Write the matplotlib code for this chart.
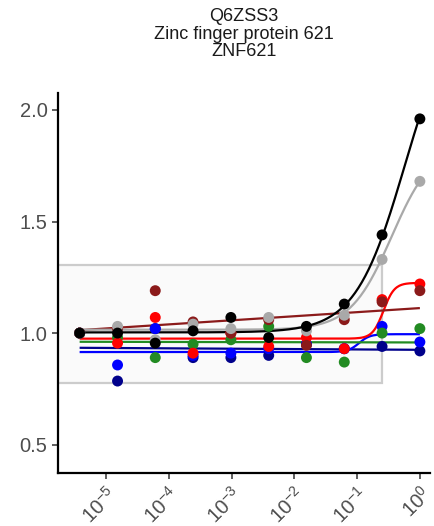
import numpy as np
import matplotlib
matplotlib.use("Agg")
import matplotlib.pyplot as plt
from matplotlib.patches import Rectangle

plt.rcParams['font.family'] = ['Liberation Sans', 'DejaVu Sans']
plt.rcParams['mathtext.fontset'] = 'custom'
plt.rcParams['mathtext.rm'] = 'Liberation Sans'
plt.rcParams['mathtext.it'] = 'Liberation Sans'

# concentrations (4-fold dilution series)
conc = [3.81e-6, 1.53e-5, 6.10e-5, 2.44e-4, 9.77e-4, 3.91e-3, 1.56e-2, 6.25e-2, 0.25, 1.0]

# relative signal per series
navy_vals = [1.00, 0.785, 1.02, 0.89, 0.89, 0.90, 0.95, 0.93, 0.94, 0.92]
blue_vals = [1.00, 0.857, 1.02, 0.90, 0.91, 0.93, 0.95, 0.93, 1.03, 0.96]
green_vals = [1.00, 0.98, 0.89, 0.95, 0.97, 1.03, 0.89, 0.87, 1.00, 1.02]
red_vals = [1.00, 0.955, 1.07, 0.91, 1.00, 0.94, 0.98, 0.93, 1.15, 1.22]
darkred_vals = [1.00, 1.02, 1.19, 1.05, 1.00, 1.06, 0.945, 1.06, 1.14, 1.19]
gray_vals = [1.00, 1.03, 0.97, 1.04, 1.02, 1.07, 1.01, 1.08, 1.33, 1.68]
black_vals = [1.00, 1.00, 0.955, 1.01, 1.07, 0.98, 1.03, 1.13, 1.44, 1.96]

# fitted curves: (bottom, top, log10 ec50, hill slope) or linear (start, end)
navy_fit = ('lin', 0.934, 0.925)
blue_fit = ('sig', 0.915, 0.995, -0.97, 5.0)
green_fit = ('lin', 0.961, 0.958)
red_fit = ('sig', 0.975, 1.225, -0.58, 5.0)
darkred_fit = ('lin', 1.013, 1.112)
gray_fit = ('sig', 1.015, 1.85, -0.45, 1.32)
black_fit = ('sig', 1.003, 2.5, -0.24, 1.1)

# stable window
box_top = 1.305
box_bottom = 0.776
box_right = 0.25

series = [
    (navy_vals, navy_fit, '#00008B'),
    (blue_vals, blue_fit, '#0000FF'),
    (green_vals, green_fit, '#228B22'),
    (red_vals, red_fit, '#FF0000'),
    (darkred_vals, darkred_fit, '#8B1A1A'),
    (gray_vals, gray_fit, '#A9A9A9'),
    (black_vals, black_fit, '#000000'),
]

fig = plt.figure(figsize=(4.34, 5.26), dpi=100)
ax = fig.add_axes([0.1336, 0.1008, 0.857, 0.722])

ax.set_xscale('log')
ax.set_xlim(10 ** -5.764, 10 ** 0.16)
ax.set_ylim(0.373, 2.075)

ax.add_patch(Rectangle((10 ** -6, box_bottom), box_right - 10 ** -6, box_top - box_bottom,
                       facecolor='#FAFAFA', edgecolor='#CCCCCC', linewidth=1.6, zorder=1))

lx = np.log10(conc)
xs = np.linspace(lx[0], lx[-1], 300)
for vals, fit, col in series:
    if fit[0] == 'sig':
        _, b, t, e, h = fit
        ys = b + (t - b) / (1 + 10 ** ((e - xs) * h))
    else:
        _, y0, y1 = fit
        ys = y0 + (y1 - y0) * (xs - lx[0]) / (lx[-1] - lx[0])
    ax.plot(10 ** xs, ys, color=col, lw=1.6, zorder=3, solid_capstyle='butt')
    ax.scatter(conc, vals, s=62, color=col, edgecolors='none', zorder=4)

fig.text(0.5625, 1 - 8 / 526, 'Q6ZSS3\nZinc finger protein 621\nZNF621', fontsize=13,
         linespacing=1.05, ha='center', va='top', color='#1a1a1a')

ax.set_yticks([0.5, 1.0, 1.5, 2.0])
ax.set_yticklabels(['0.5', '1.0', '1.5', '2.0'])
xt = [1e-5, 1e-4, 1e-3, 1e-2, 1e-1, 1e0]
ax.set_xticks(xt)
ax.set_xticklabels([r'$10^{%d}$' % k for k in range(-5, 1)], rotation=45, ha='right',
                   va='top', rotation_mode='anchor')
ax.minorticks_off()
ax.tick_params(axis='both', labelsize=14.5, labelcolor='#4D4D4D', color='#333333',
               length=4, width=1.1)
for s in ['top', 'right']:
    ax.spines[s].set_visible(False)
for s in ['left', 'bottom']:
    ax.spines[s].set_linewidth(1.6)

fig.savefig('out.png', dpi=100)
